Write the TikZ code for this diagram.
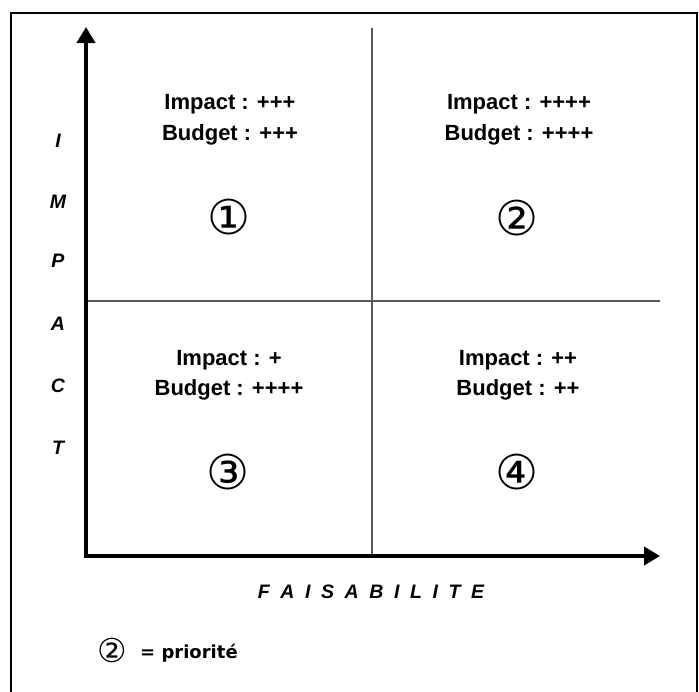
\documentclass[tikz,border=0pt]{standalone}
\usepackage{fontspec}
\setmainfont{Liberation Sans}
\newfontfamily\symfont{DejaVu Sans}
\usetikzlibrary{arrows,arrows.meta,positioning,calc}
\tikzset{
  quad/.style={anchor=base, font=\fontsize{22}{26}\selectfont\bfseries},
  num/.style={inner sep=0pt, font=\symfont\fontsize{48}{48}\selectfont},
  axisletter/.style={anchor=base, font=\fontsize{19.5}{22}\selectfont\bfseries\itshape},
  axisline/.style={line width=4.5pt, line join=miter,
    {Triangle[length=16pt,width=18pt]}-{Triangle[length=16pt,width=18pt]}},
  split/.style={draw=black!65, line width=1.6pt},
  prio/.style={anchor=base west, inner sep=0pt, font=\symfont\bfseries\fontsize{18}{20}\selectfont},
}
\newcommand{\lsp}{\hspace{10.6pt}}

\begin{document}
\begin{tikzpicture}[x=1pt,y=-1pt]
\useasboundingbox (0,0) rectangle (699,691);
\draw[line width=1.3pt] (11,13) rectangle (697,700);

% axes and quadrants
\coordinate (o) at (86,556);
\coordinate (ytip) at (86,27);
\coordinate (xtip) at (660,556);
\coordinate (vtop) at (372,28);
\coordinate (vbot) at (372,556);
\coordinate (hl) at (86,301);
\coordinate (hr) at (660,301);
\draw[split] (vtop) -- (vbot);
\draw[split] (hl) -- (hr);
\draw[axisline] (ytip) -- (o) -- (xtip);

% nodes
\node[quad] (imp1) at (230,109) {Impact : +++};
\node[quad] (bud1) at ($(imp1.base)+(0,31)$) {Budget : +++};
\node[num] (n1) at (229,217) {①};

\node[quad] (imp2) at (519,109) {Impact : ++++};
\node[quad] (bud2) at ($(imp2.base)+(0,31)$) {Budget : ++++};
\node[num] (n2) at (517,218) {②};

\node[quad] (imp3) at (229,365) {Impact : +};
\node[quad] (bud3) at ($(imp3.base)+(0,30)$) {Budget : ++++};
\node[num] (n3) at (228,472) {③};

\node[quad] (imp4) at (518,365) {Impact : ++};
\node[quad] (bud4) at ($(imp4.base)+(0,30)$) {Budget : ++};
\node[num] (n4) at (517,472) {④};

% axis titles
\foreach \ch/\yy [count=\i] in {I/147,M/208,P/267,A/330,C/392,T/454}
  \node[axisletter] (ax\i) at (58,\yy) {\ch};
\node[axisletter] (feas) at (371,598) {F\lsp A\lsp I\lsp S\lsp A\lsp B\lsp I\lsp L\lsp I\lsp T\lsp E};

% legend
\node[font=\symfont\fontsize{33}{33}\selectfont, inner sep=0pt] (leg) at (112,650) {②};
\node[prio] (prioword) at (140,658) {= priorité};
\end{tikzpicture}
\end{document}
